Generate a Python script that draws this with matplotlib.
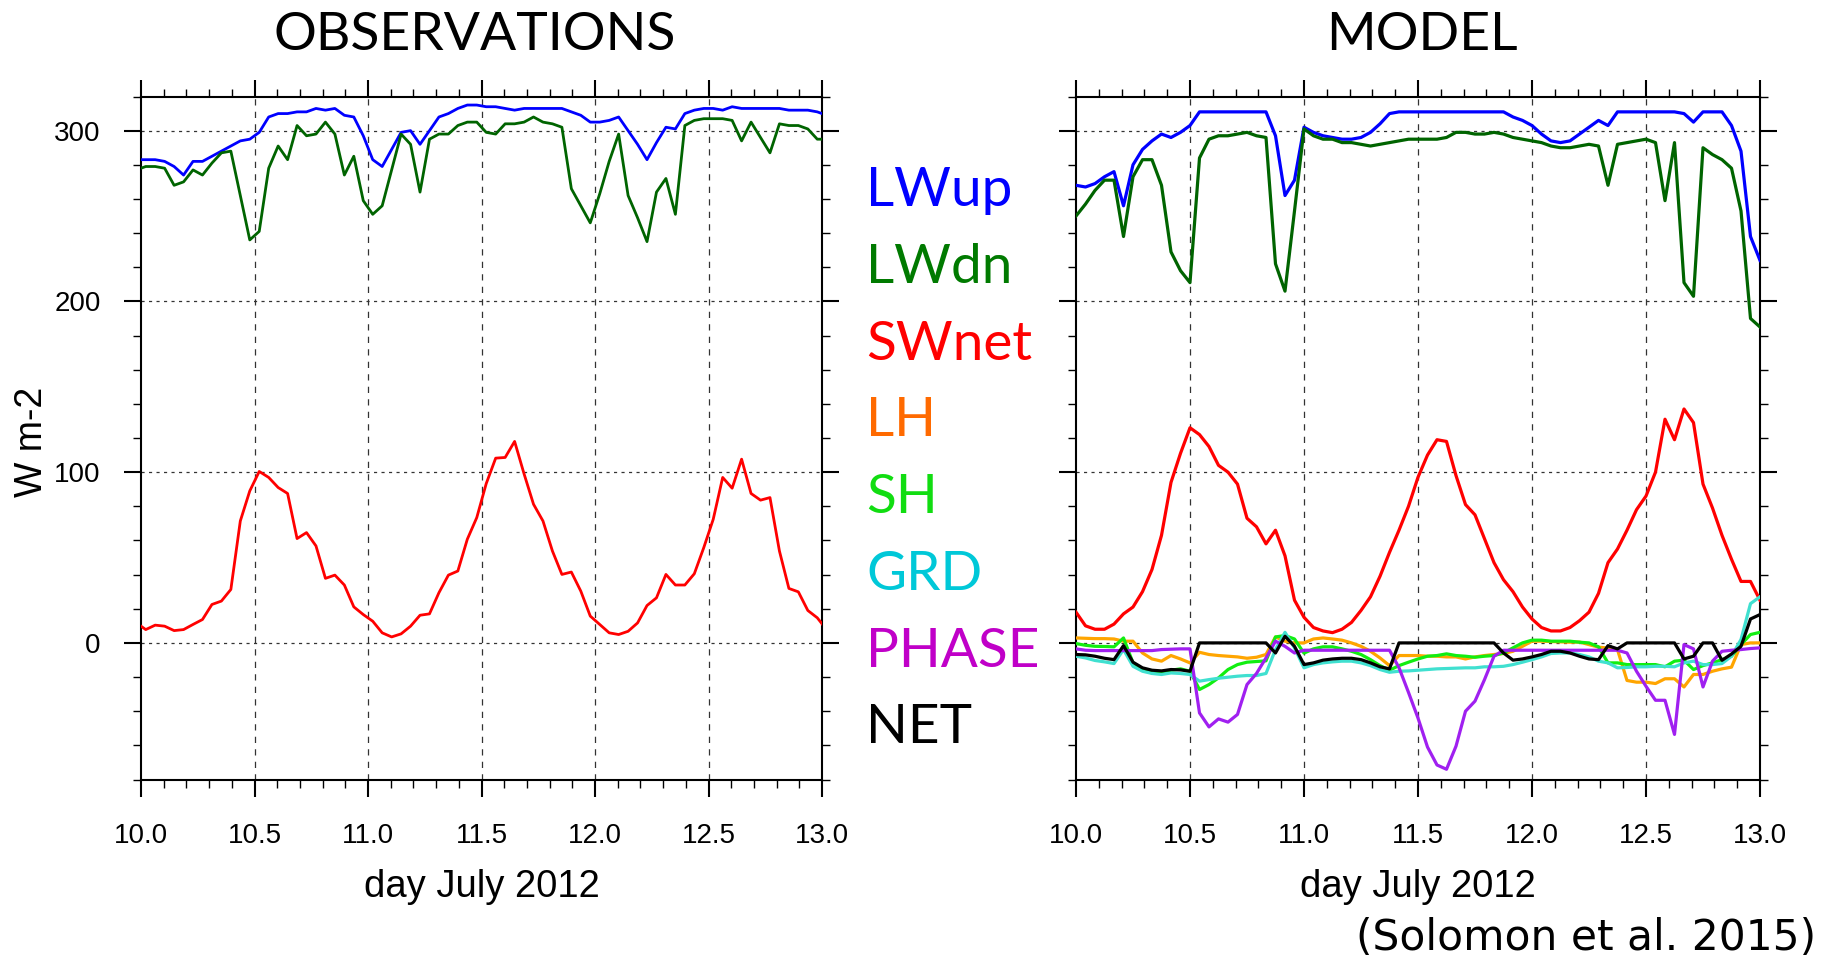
import numpy as np
import matplotlib
matplotlib.use("Agg")
import matplotlib.pyplot as plt
from matplotlib.ticker import MultipleLocator

plt.rcParams['font.family'] = 'Liberation Sans'

# ---- observations: hourly means centred on the half hour (first/last fall just outside the axes)
obs_hours = np.arange(-0.5, 73.0, 1.0)
obs_lwup = [283,
            283, 283, 282, 279, 274, 282, 282, 285, 288, 291, 294, 295,
            299, 308, 310, 310, 311, 311, 313, 312, 313, 309, 308, 297,
            283, 279, 289, 299, 300, 292, 300, 308, 310, 313, 315, 315,
            314, 314, 313, 312, 313, 313, 313, 313, 313, 311, 309, 305,
            305, 306, 308, 300, 292, 283, 293, 302, 301, 310, 312, 313,
            313, 312, 314, 313, 313, 313, 313, 313, 312, 312, 312, 311,
            309]
obs_lwdn = [277,
            279, 279, 278, 268, 270, 277, 274, 281, 287, 288, 262, 236,
            241, 278, 291, 283, 303, 297, 298, 305, 298, 274, 285, 259,
            251, 256, 277, 298, 292, 264, 295, 298, 298, 303, 305, 305,
            299, 298, 304, 304, 305, 308, 305, 304, 302, 266, 256, 246,
            263, 282, 298, 262, 249, 235, 264, 272, 251, 303, 306, 307,
            307, 307, 306, 294, 305, 296, 287, 304, 303, 303, 301, 295,
            295]
obs_swnet = [11.8,
             7.8, 10.4, 9.8, 7.2, 7.8, 10.8, 13.7, 22.5, 24.5, 31.3, 71.4, 89,
             100.4, 96.9, 91, 87.5, 61.1, 64.6, 56.8, 37.8, 39.7, 33.9, 21.1, 16.6,
             12.7, 5.9, 3.5, 5.3, 9.8, 16.2, 17, 29.4, 39.7, 42.1, 60.7, 73.4,
             93.3, 108.2, 108.6, 118, 99, 81.2, 71.4, 53.8, 40.1, 41.5, 30.3, 15.7,
             10.8, 5.9, 4.9, 6.8, 11.7, 21.9, 26.4, 40.1, 33.9, 33.9, 40.5, 55.8,
             72.4, 96.9, 90.6, 107.6, 87.5, 83.6, 85.1, 53.8, 31.9, 29.9, 19, 14.7,
             7.7]

# ---- model: hourly output on the hour
mod_hours = np.arange(0, 73, 1.0)
mod_lwup = [268, 267, 269, 273, 276, 256, 280, 289, 294, 298, 296, 299, 303,
            311, 311, 311, 311, 311, 311, 311, 311,
            297, 262, 271, 302, 299, 297, 296, 295, 295, 296, 299, 304, 310,
            311, 311, 311, 311, 311, 311, 311, 311, 311, 311, 311, 311,
            308, 306, 303, 298, 294, 293, 294, 298, 302, 306, 303,
            311, 311, 311, 311, 311, 311, 311,
            310, 305, 311, 311, 311, 303, 288, 238, 224]
mod_lwdn = [250, 257, 265, 271, 271, 238, 273, 283, 283, 268, 229, 218, 211,
            284, 295, 297, 297, 298, 299, 297, 296,
            222, 206, 253, 301,
            297, 295, 295, 293, 293, 292, 291, 292, 293, 294, 295,
            295, 295, 295, 296, 299, 299, 298, 298, 299, 298,
            296, 295, 294, 293, 291, 290, 290, 291, 292, 291, 268,
            292, 293, 294, 295, 293, 259, 293, 211, 203,
            290, 286, 283, 278, 253, 190, 185]
mod_swnet = [18, 10, 8, 8, 11, 17, 21, 30, 43, 63, 94, 111,
             126, 122, 115, 104, 100, 93, 73, 68, 58, 66, 51, 25,
             15, 9, 7, 6, 8, 12, 19, 27, 39, 53, 66, 80,
             97, 110, 119, 118, 98, 81, 75, 61, 47, 37, 30, 21,
             14, 9, 7, 7, 9, 13, 18, 29, 47, 55, 66, 78,
             86, 100, 131, 119, 137, 129, 93, 79, 63, 49, 36, 36, 25]
mod_lh = [2.9, 2.7, 2.5, 2.5, 2.3, 1, 1, -5.9, -9.4, -10.7, -7.4, -9.4, -11.7,
          -5.5, -6.8, -7.4, -7.8, -8.2, -9, -8.4, -6.8, 3.5, 1, 0, 0,
          2.3, 2.9, 2.3, 1.6, 0, -2, -4.9, -8.8, -13.3,
          -7.4, -7.4, -7.4, -7.8, -7.8, -8.2, -8.2, -9.4, -8.2, -7.4, -6.8, -6.2, -4.9, -2, 1,
          1, 0.8, 0.6, 0.4, 0.5, -1, -2.5, -3, -4,
          -22, -23, -23, -23.8, -21, -21, -25.8, -18.5, -18.5, -16.6, -15.2, -14.2, -1, 0, 0]
mod_sh = [-0.4, -1.4, -2, -2.1, -2.3, 2.9, -11.7, -15.6, -17.6, -17.9, -16, -15.2, -16.6,
          -27.3, -24.4, -20.5, -15.6, -12.7, -11.3, -10.9, -10.5, 3.5, 4.3, 2.3, -6,
          -3.5, -2.3, -2.3, -3.5, -4.9, -6.8, -9.8, -13.3, -16, -13.3, -11.3, -9.4,
          -7.8, -7.4, -6.4, -7.4, -7.8, -8.4, -7.8, -7.4, -5.9, -2.9, 0, 1.6,
          1.6, 1, 1, 1, 0.4, 0, -2.3, -11.7, -11.7, -12.7, -12.7, -12.7,
          -12.7, -14, -10.7, -10.1, -15.6, -13.3, -11.7, -9.8, -7.8, -1, 4.9, 6.2]
mod_grd = [-7.8, -8.8, -10.3, -11.1, -12.1, -3.9, -13.7, -16.6, -17.9, -18.5, -17.6, -17.9, -18.5,
           -22.4, -21.5, -20.7, -20.1, -19.5, -19.1, -19.1, -17.9, -3.9, 6.2, -2.9, -14.6,
           -12.7, -11.7, -11.1, -10.7, -10.7, -11.7, -13.3, -15.6, -17.2, -16.6, -16.4, -16,
           -15.6, -15.2, -15, -14.8, -14.6, -14.6, -14, -14, -13.7, -12.7, -11.3, -9.8,
           -8.2, -6.2, -5.9, -5.9, -6.8, -8.2, -10.7, -11.7, -14.6, -14.4, -14, -14,
           -13.7, -13.7, -14, -11.7, -10.7, -12.7, -12.7, -12.1, -7.8, 2, 23, 27]
mod_phase = [-3.5, -4.3, -4.5, -4.5, -4.5, -4.5, -4.5, -4.5, -4.5, -3.9, -3.7, -3.5, -3.5,
             -41, -49.2, -44.5, -46.4, -41.9, -24.4, -17.9, -8.8, 1, -2, -5.9, -4.3,
             -4.3, -4.3, -4.3, -4.3, -4.3, -4.3, -4.3, -4.3, -4.3, -14.5, -29, -44,
             -61, -71.5, -74, -60.5, -40, -34.1, -21.5, -7.8, -4.3, -4.3, -4.3, -4.3,
             -4.3, -4.3, -4.3, -4.3, -4.3, -4.3, -4.3, -4.3, -4.3, -5.9, -16.6, -25.4,
             -33.6, -33.6, -53.6, -1, -3.5, -25.8, -10.7, -4.9, -4.3, -3.9, -3.3, -2.9]
mod_net = [-6.8, -7, -7.8, -9, -9.8, -1.6, -11.3, -14.6, -16, -16.4, -15.6, -15.8, -16.6,
           0, 0, 0, 0, 0, 0, 0, 0, -5.9, 3.9, -2, -12.7,
           -11.7, -10.1, -9.4, -9, -9, -9.8, -11.7, -14, -15.2, 0, 0, 0,
           0, 0, 0, 0, 0, 0, 0, 0, -5.9, -10.1, -9.4, -8.2,
           -6.8, -4.9, -4.9, -5.9, -7.8, -9.4, -9.8, -1.6, -3.5, 0, 0, 0,
           0, 0, 0, -9.4, -7.8, 0, 0, -10.2, -6.5, -2, 14, 16.6]

labels = ['LWup', 'LWdn', 'SWnet', 'LH', 'SH', 'GRD', 'PHASE', 'NET']
line_colors = ['#0000ff', '#006400', '#ff0000', '#ffa500', '#11ee11', '#40e0d0', '#a020f0', '#000000']
text_colors = ['#0000ff', '#007a00', '#ff0000', '#ff6a00', '#11dd11', '#00c8d8', '#c000c8', '#000000']

W, H = 1837, 957
fig = plt.figure(figsize=(W / 100, H / 100), dpi=100)

def style_axes(ax, show_ylabels):
    ax.set_xlim(10, 13)
    ax.set_ylim(-80, 320)
    ax.xaxis.set_major_locator(MultipleLocator(0.5))
    ax.xaxis.set_minor_locator(MultipleLocator(0.1))
    ax.yaxis.set_major_locator(MultipleLocator(100))
    ax.yaxis.set_minor_locator(MultipleLocator(20))
    ax.set_xticklabels([f'{v:.1f}' for v in ax.get_xticks()])
    ax.tick_params(which='major', direction='out', length=12, width=1.5,
                   top=True, right=True, labelsize=20, pad=19)
    ax.tick_params(which='minor', direction='out', length=6, width=1.0,
                   top=True, right=True)
    ax.tick_params(axis='y', which='major', pad=17)
    if not show_ylabels:
        ax.tick_params(axis='y', labelleft=False)
    for sp in ax.spines.values():
        sp.set_linewidth(1.5)
    for v in [10.5, 11.0, 11.5, 12.0, 12.5]:
        ax.axvline(v, color='#333333', lw=0.9, ls=(0, (5, 5)), zorder=1)
    for v in [0, 100, 200, 300]:
        ax.axhline(v, color='#333333', lw=0.9, ls=(0, (2.5, 3.5)), zorder=1)

# observations panel
ax1 = fig.add_axes([141 / W, 1 - 779.5 / H, 681 / W, 683 / H])
t_obs = 10 + obs_hours / 24.0
for vals, c in zip([obs_lwup, obs_lwdn, obs_swnet], line_colors[:3]):
    ax1.plot(t_obs, vals, color=c, lw=2.0, zorder=3)
style_axes(ax1, True)

# model panel
ax2 = fig.add_axes([1076 / W, 1 - 779.5 / H, 684 / W, 683 / H])
t_mod = 10 + mod_hours / 24.0
model_series = [mod_lwup, mod_lwdn, mod_swnet, mod_lh, mod_sh, mod_grd, mod_phase, mod_net]
for vals, c in zip(model_series, line_colors):
    ax2.plot(t_mod, vals, color=c, lw=2.3, zorder=3)
style_axes(ax2, False)

# titles
fig.text(475 / W, 1 - 50 / H, 'OBSERVATIONS', ha='center', va='baseline',
         fontsize=38.5, family='Lato')
fig.text(1422 / W, 1 - 50 / H, 'MODEL', ha='center', va='baseline',
         fontsize=38.5, family='Lato')

# colour key between the panels
for i, (lab, c) in enumerate(zip(labels, text_colors)):
    y = 206.4 + 76.7 * i
    fig.text(866 / W, 1 - y / H, lab, color=c, ha='left', va='baseline',
             fontsize=39.5, family='Lato')

# axis labels
fig.text(32.5 / W, 1 - 442 / H, 'W m-2', rotation=90, ha='center', va='center', fontsize=27)
for xc in [481.5, 1418]:
    fig.text(xc / W, 1 - 897 / H, 'day July 2012', ha='center', va='baseline', fontsize=27.5)

fig.text(1816 / W, 1 - 950 / H, '(Solomon et al. 2015)', ha='right', va='baseline',
         fontsize=30.5, family='DejaVu Sans')

fig.savefig('out.png', dpi=100)
